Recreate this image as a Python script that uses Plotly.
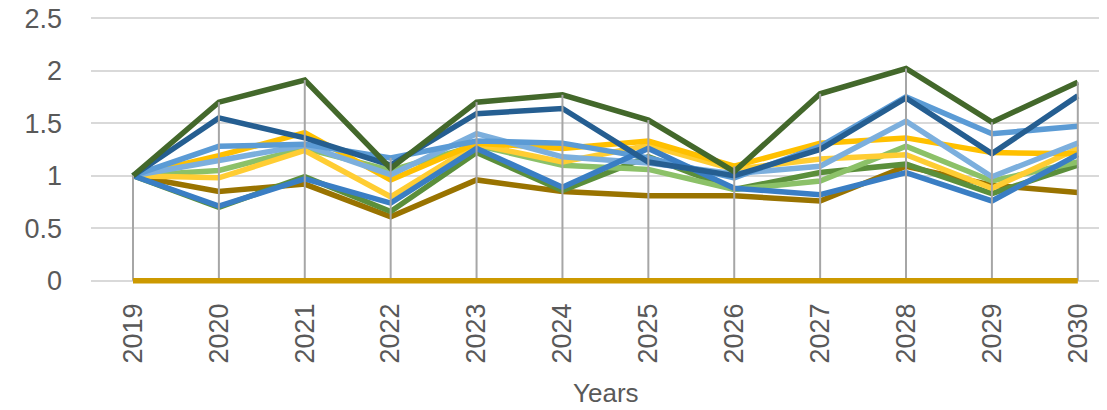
import plotly.graph_objects as go

years = ["2019", "2020", "2021", "2022", "2023", "2024", "2025", "2026", "2027", "2028", "2029", "2030"]

brown = [1.00, 0.85, 0.92, 0.61, 0.96, 0.85, 0.81, 0.81, 0.76, 1.09, 0.91, 0.84]
green = [1.00, 0.70, 0.99, 0.66, 1.22, 0.86, 1.18, 0.87, 1.03, 1.11, 0.83, 1.10]
light_green = [1.00, 1.05, 1.26, 1.05, 1.29, 1.10, 1.06, 0.87, 0.95, 1.28, 0.95, 1.13]
yellow = [1.00, 0.98, 1.24, 0.80, 1.30, 1.13, 1.29, 1.06, 1.16, 1.20, 0.88, 1.26]
orange = [1.00, 1.19, 1.41, 0.96, 1.31, 1.26, 1.33, 1.09, 1.31, 1.36, 1.22, 1.21]
light_blue = [1.00, 1.14, 1.29, 1.01, 1.40, 1.18, 1.12, 1.02, 1.09, 1.52, 0.99, 1.31]
mid_blue = [1.00, 1.28, 1.30, 1.17, 1.33, 1.31, 1.17, 0.98, 1.28, 1.75, 1.40, 1.47]
blue = [1.00, 0.71, 0.97, 0.74, 1.26, 0.89, 1.26, 0.88, 0.82, 1.03, 0.76, 1.20]
dark_blue = [1.00, 1.55, 1.36, 1.10, 1.59, 1.64, 1.13, 1.00, 1.25, 1.74, 1.21, 1.76]
dark_green = [1.00, 1.70, 1.91, 1.07, 1.70, 1.77, 1.53, 1.04, 1.78, 2.02, 1.51, 1.89]
zero = [0, 0, 0, 0, 0, 0, 0, 0, 0, 0, 0, 0]

series = [
    ("Series A", brown, "#997300"),
    ("Series B", green, "#5B8F3B"),
    ("Series C", light_green, "#8CC168"),
    ("Series D", yellow, "#FFCD33"),
    ("Series E", orange, "#FFC000"),
    ("Series F", light_blue, "#7CAFDD"),
    ("Series G", mid_blue, "#5B9BD5"),
    ("Series H", blue, "#3A7EC4"),
    ("Series I", dark_blue, "#255E91"),
    ("Series J", dark_green, "#43682B"),
]

x_idx = list(range(len(years)))
fig = go.Figure()

for name, vals, col in series:
    fig.add_trace(go.Scatter(x=x_idx, y=vals, mode="lines", name=name,
                             line=dict(color=col, width=5.5),
                             showlegend=False, hoverinfo="x+y+name"))

# drop lines (from 0 to the highest value in each category)
all_vals = [v for _, v, _ in series] + [zero]
dx, dy = [], []
for i in x_idx:
    top = max(s[i] for s in all_vals)
    dx += [i, i, None]
    dy += [0, top, None]
fig.add_trace(go.Scatter(x=dx, y=dy, mode="lines", line=dict(color="#A6A6A6", width=2),
                         showlegend=False, hoverinfo="skip"))

fig.add_trace(go.Scatter(x=x_idx, y=zero, mode="lines", name="Series K",
                         line=dict(color="#CC9900", width=5.5),
                         showlegend=False))

# the page body has an 8px default margin, so the figure is drawn 8px smaller
W, H = 1099, 402
ML, MT, MB = 83, 8, 124.5
fig.update_layout(
    width=W, height=H,
    margin=dict(l=ML, r=0, t=MT, b=MB, pad=0),
    paper_bgcolor="white", plot_bgcolor="white",
    font=dict(family="Liberation Sans, Arial, sans-serif", color="#595959"),
    xaxis=dict(
        tickmode="array", tickvals=x_idx, ticktext=years,
        range=[-0.489, 11.34], tickangle=-90, automargin=False,
        tickfont=dict(size=27, color="#595959"),
        showgrid=False, zeroline=False, showline=False,
        ticks="", ticklabelstandoff=12, ticklabeloverflow="allow",
    ),
    yaxis=dict(
        tickmode="array", tickvals=[0, 0.5, 1, 1.5, 2, 2.5],
        ticktext=["0", "0.5", "1", "1.5", "2", "2.5"],
        range=[-0.04, 2.52], automargin=False,
        tickfont=dict(size=27, color="#595959"),
        showgrid=True, gridcolor="#D9D9D9", gridwidth=2,
        zeroline=False, showline=False, ticks="", ticklabelstandoff=28,
        ticklabeloverflow="allow",
    ),
)
plot_h = H - MT - MB
plot_w = W - ML
fig.add_annotation(text="Years", showarrow=False,
                   xref="paper", yref="paper", xanchor="center", yanchor="middle",
                   x=(598 - ML) / plot_w, y=(H - MB - 386) / plot_h,
                   font=dict(size=26, color="#595959"))

fig.write_html("out.html")
